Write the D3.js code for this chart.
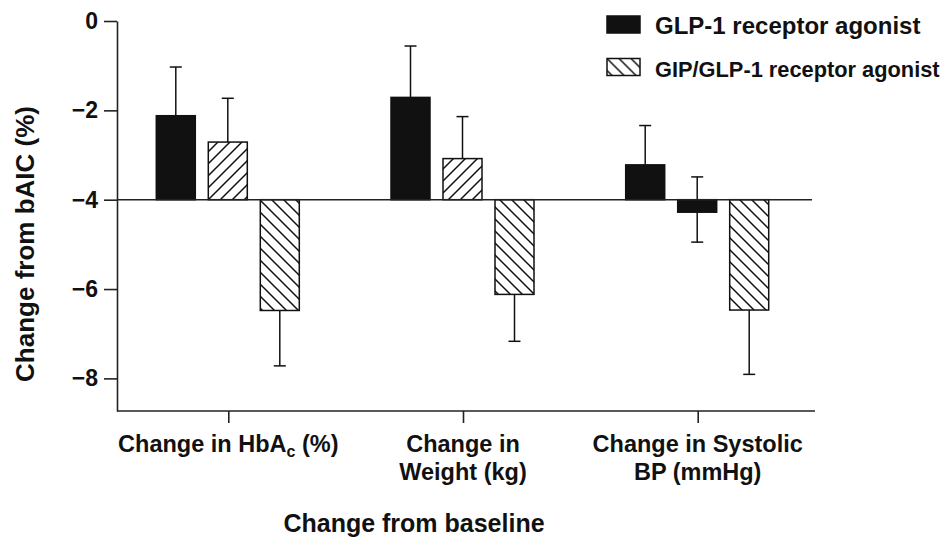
<!DOCTYPE html>
<html>
<head>
<meta charset="utf-8">
<script src="https://cdn.jsdelivr.net/npm/d3@7"></script>
<style>
  body { margin: 0; background: #fff; }
  svg text { font-family: "Liberation Sans", Arial, sans-serif; font-weight: bold; fill: #111; }
</style>
</head>
<body>
<div id="chartContainer"></div>
<script>
// Chart values
const categories = ["HbA1c", "Weight", "SBP"];
const categoryLines = [["Change in HbA|c| (%)"], ["Change in", "Weight (kg)"], ["Change in Systolic", "BP (mmHg)"]];
const barSlots = ["a", "b", "c"];
// fill style of each bar in each group (solid / forward hatch / back hatch)
const barStyles = [
  ["solid", "fwd", "back"],
  ["solid", "fwd", "back"],
  ["solid", "solid", "back"]
];
const barValues = [
  [-2.12, -2.71, -6.48],
  [-1.71, -3.08, -6.12],
  [-3.22, -4.28, -6.47]
];
// error bar ends (null = no whisker on that side)
const errHigh = [
  [-1.03, -1.73, null],
  [-0.56, -2.14, null],
  [-2.34, -3.49, null]
];
const errLow = [
  [null, null, -7.72],
  [null, null, -7.17],
  [null, -4.95, -7.91]
];
const yTicks = [0, -2, -4, -6, -8];
const baseline = -4;
const legendLabels = ["GLP-1 receptor agonist", "GIP/GLP-1 receptor agonist"];
const legendStyles = ["solid", "back"];

const width = 945, height = 538;
const margin = { top: 21, right: 125, bottom: 127, left: 117 };

const svg = d3.select("#chartContainer")
  .append("svg")
  .attr("width", width)
  .attr("height", height);

// hatch patterns
const defs = svg.append("defs");
function hatch(id, d) {
  const p = defs.append("pattern")
    .attr("id", id)
    .attr("patternUnits", "userSpaceOnUse")
    .attr("width", 12)
    .attr("height", 12);
  p.append("rect").attr("width", 12).attr("height", 12).attr("fill", "#fff");
  p.append("path").attr("d", d).attr("stroke", "#111").attr("stroke-width", 1.5);
}
hatch("fwd", "M0,12 L12,0 M-3,3 L3,-3 M9,15 L15,9");
hatch("back", "M0,0 L12,12 M-3,9 L3,15 M9,-3 L15,3");
const fillOf = s => s === "solid" ? "#111" : `url(#${s})`;

// scales
const y = d3.scaleLinear()
  .domain([-8.73, 0])
  .range([height - margin.bottom, margin.top]);

const x0 = d3.scalePoint()
  .domain(categories)
  .range([228.3, 697.7]);

const x1 = d3.scaleBand()
  .domain(barSlots)
  .range([-72, 71])
  .paddingInner(0.25);

const yBottom = y.range()[0];
const xRight = width - margin.right - 8;

// y axis
svg.append("g")
  .attr("transform", `translate(${margin.left},0)`)
  .call(d3.axisLeft(y).tickValues(yTicks).tickSize(13).tickSizeOuter(0).tickPadding(6)
    .tickFormat(d => d === 0 ? "0" : "\u2212" + Math.abs(d)))
  .call(g => g.selectAll("text").style("font-size", "23px"))
  .call(g => g.selectAll("path, line").attr("stroke", "#222").attr("stroke-width", 1.6));

// x axis
svg.append("g")
  .attr("transform", `translate(0,${yBottom})`)
  .call(d3.axisBottom(x0).tickSize(12).tickSizeOuter(0).tickFormat(""))
  .call(g => g.select(".domain").remove())
  .call(g => g.selectAll("line").attr("stroke", "#222").attr("stroke-width", 1.6));

svg.append("line")
  .attr("x1", margin.left).attr("x2", xRight + 3)
  .attr("y1", yBottom).attr("y2", yBottom)
  .attr("stroke", "#222").attr("stroke-width", 1.6);

// bars
const bars = [];
categories.forEach((c, gi) => {
  barSlots.forEach((s, bi) => {
    bars.push({ c, s, v: barValues[gi][bi], style: barStyles[gi][bi], hi: errHigh[gi][bi], lo: errLow[gi][bi] });
  });
});

const bx = d => x0(d.c) + x1(d.s);

// error bars first (behind bars)
const eb = svg.append("g").attr("stroke", "#111").attr("stroke-width", 1.5);
bars.forEach(d => {
  const cx = bx(d) + x1.bandwidth() / 2;
  const top = d.hi !== null ? d.hi : d.v;
  const bot = d.lo !== null ? d.lo : d.v;
  eb.append("line").attr("x1", cx).attr("x2", cx).attr("y1", y(top)).attr("y2", y(bot));
  [d.hi, d.lo].filter(e => e !== null).forEach(e => {
    eb.append("line").attr("x1", cx - 6).attr("x2", cx + 6).attr("y1", y(e)).attr("y2", y(e));
  });
});

svg.selectAll(".bar")
  .data(bars)
  .enter()
  .append("rect")
  .attr("class", "bar")
  .attr("x", bx)
  .attr("y", d => y(Math.max(d.v, baseline)))
  .attr("width", x1.bandwidth())
  .attr("height", d => Math.abs(y(d.v) - y(baseline)))
  .attr("fill", d => fillOf(d.style))
  .attr("stroke", "#111")
  .attr("stroke-width", 1.5);

// baseline at -4
svg.append("line")
  .attr("x1", margin.left).attr("x2", xRight)
  .attr("y1", y(baseline)).attr("y2", y(baseline))
  .attr("stroke", "#222").attr("stroke-width", 1.6);

// category labels
categories.forEach((c, gi) => {
  const t = svg.append("text")
    .attr("x", x0(c))
    .attr("y", 452)
    .attr("text-anchor", "middle")
    .style("font-size", "23.5px");
  categoryLines[gi].forEach((line, li) => {
    const parts = line.split("|");
    parts.forEach((part, pi) => {
      const ts = t.append("tspan").text(part);
      if (pi === 0) ts.attr("x", x0(c)).attr("dy", li === 0 ? 0 : 28);
      if (pi === 1) ts.style("font-size", "16px").attr("dy", 5);
      if (pi === 2) ts.attr("dy", -5);
    });
  });
});

// axis titles
svg.append("text")
  .attr("transform", "translate(34,244) rotate(-90)")
  .attr("text-anchor", "middle")
  .style("font-size", "26px")
  .text("Change from bAIC (%)");

svg.append("text")
  .attr("x", 414)
  .attr("y", 532)
  .attr("text-anchor", "middle")
  .style("font-size", "25px")
  .text("Change from baseline");

// legend
const legendFont = [24, 21.8];
const legend = svg.append("g").attr("transform", "translate(607,16)");
legendLabels.forEach((label, i) => {
  const row = legend.append("g").attr("transform", `translate(0,${i * 42.5})`);
  row.append("rect")
    .attr("width", 33).attr("height", 17)
    .attr("fill", fillOf(legendStyles[i]))
    .attr("stroke", "#111").attr("stroke-width", 1.5);
  row.append("text")
    .attr("x", 48).attr("y", 18)
    .style("font-size", legendFont[i] + "px")
    .text(label);
});
</script>
</body>
</html>
